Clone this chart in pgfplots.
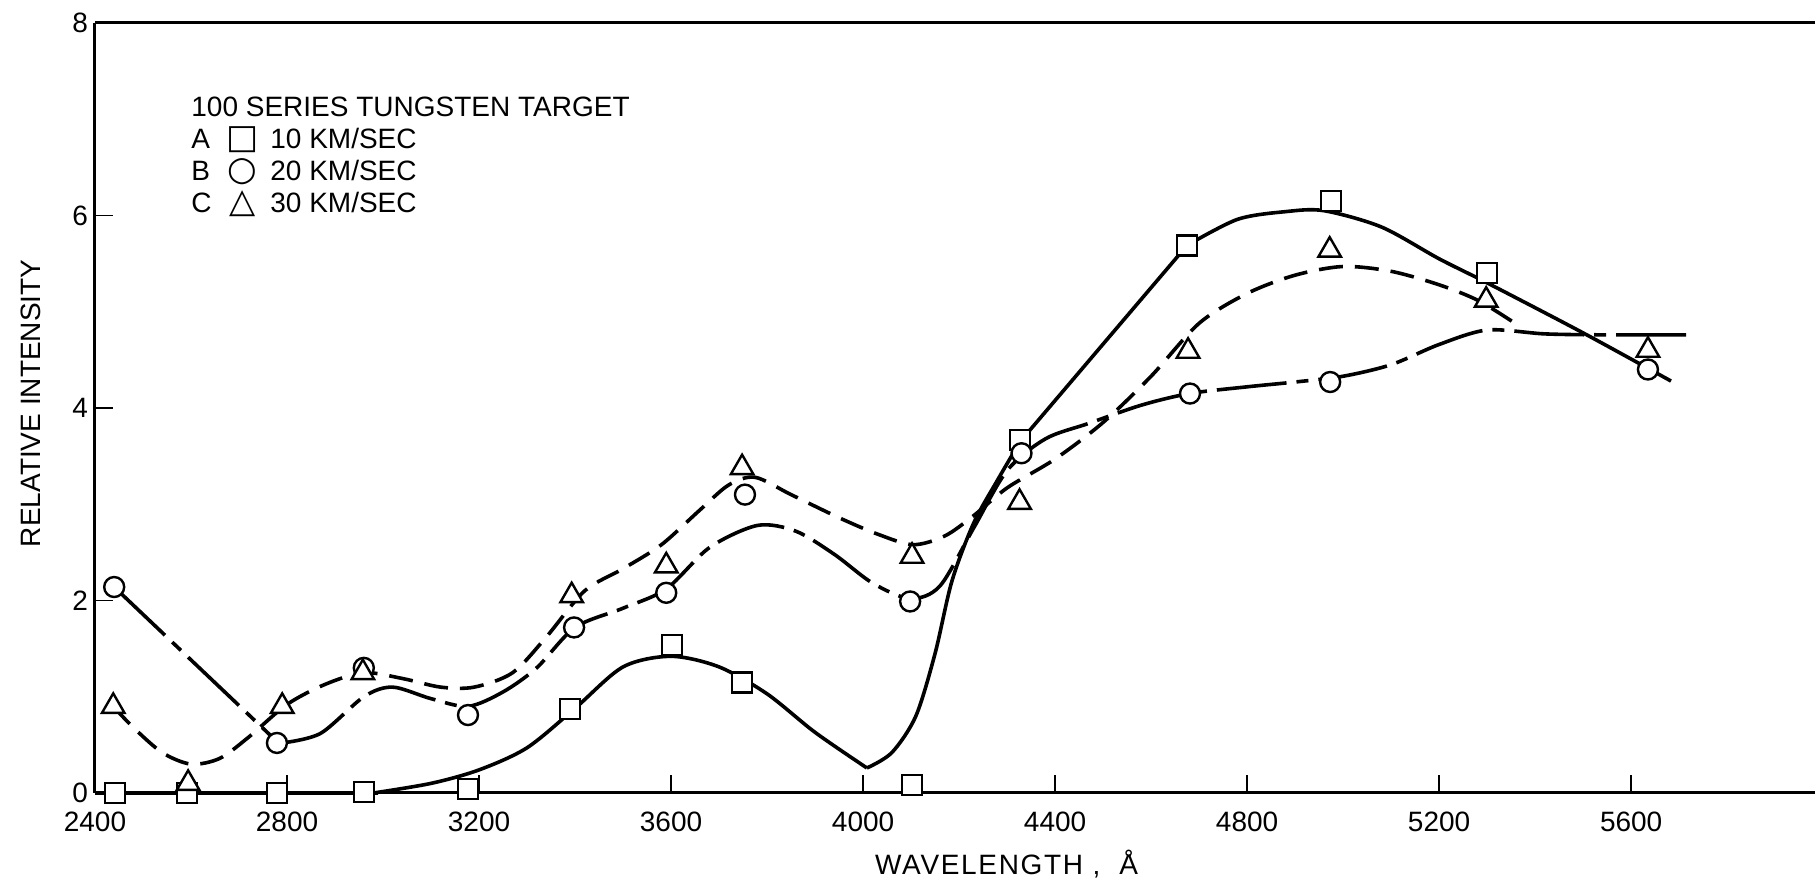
\documentclass[border=0pt]{standalone}
\usepackage{fontspec}
\setmainfont{Liberation Sans}
\newfontfamily\symfont{DejaVu Sans}
\usepackage{pgfplots}
\pgfplotsset{compat=1.18}
\newcommand{\leg}[3]{\makebox[10.5pt][l]{#1}\hspace{7pt}\makebox[16pt][c]{\symfont\fontsize{17}{16}\selectfont #2}\hspace{6pt}#3}
\begin{document}
\begin{tikzpicture}
\useasboundingbox (0,0) rectangle (907.5pt,441.5pt);
\begin{axis}[
  at={(47.5pt,45pt)}, anchor=south west,
  scale only axis, width=860pt, height=385pt,
  xmin=2400, xmax=5983, ymin=0, ymax=8,
  axis x line*=box, axis y line*=left,
  xtick={2400,2800,3200,3600,4000,4400,4800,5200,5600},
  ytick={0,2,4,6,8},
  xtick pos=bottom, ytick pos=left,
  tick align=inside, major tick length=9pt,
  every tick/.style={black, line width=0.8pt},
  axis line style={line width=1.5pt},
  font=\fontsize{14}{17}\selectfont,
  /pgf/number format/assume math mode=true,
  /pgf/number format/1000 sep={},
  xticklabel style={yshift=-6pt},
  xlabel={\addfontfeature{LetterSpace=6}WAVELENGTH\ ,\ \ Å},
  ylabel={RELATIVE INTENSITY},
  xlabel style={at={(axis description cs:0.53,-0.0922)}, anchor=center},
  ylabel style={at={(axis description cs:-0.0372,0.506)}, anchor=center},
  clip=false,
]
% ---- curves ----
% A (solid)
\addplot[black, line width=1.8pt] coordinates {(2400,0) (2990,0)};
\addplot[black, line width=1.8pt, smooth] coordinates {
 (2980,0) (3100,0.1) (3200,0.24) (3300,0.47) (3400,0.88) (3500,1.31) (3600,1.42)
 (3700,1.31) (3800,1.03) (3900,0.63) (4008,0.26)};
\addplot[black, line width=1.8pt, smooth] coordinates {
 (4008,0.26) (4060,0.42) (4110,0.8) (4150,1.45) (4185,2.2) (4230,2.8) (4280,3.25) (4327,3.65)};
\addplot[black, line width=1.8pt] coordinates {(4327,3.65) (4675,5.69)};
\addplot[black, line width=1.8pt, smooth] coordinates {
 (4675,5.69) (4780,5.96) (4880,6.04) (4960,6.05) (5080,5.88) (5200,5.55) (5300,5.30) (5500,4.78) (5683,4.28)};
% B (long dash - short dash)
\addplot[black, line width=1.8pt, dash pattern=on 35pt off 5pt on 6pt off 5pt] coordinates {(2440,2.14) (2780,0.53)};
\addplot[black, line width=1.8pt, smooth, dash pattern=on 35pt off 5pt on 6pt off 5pt] coordinates {
 (2790,0.52) (2870,0.62) (2960,1.0) (3020,1.1) (3100,0.98) (3177,0.90) (3250,1.05) (3320,1.3)
 (3400,1.72) (3500,1.92) (3590,2.12) (3680,2.55) (3780,2.78) (3860,2.72) (3940,2.48) (4020,2.18)
 (4098,2.02) (4160,2.15) (4230,2.75) (4300,3.35) (4380,3.68) (4470,3.84) (4580,4.03) (4680,4.15)
 (4800,4.22) (4900,4.27) (5000,4.33) (5100,4.45) (5200,4.66) (5300,4.81) (5420,4.77) (5540,4.76) (5729,4.76)};
% C (dashed)
\addplot[black, line width=1.8pt, smooth, dash pattern=on 12pt off 6pt] coordinates {
 (2438,0.90) (2480,0.68) (2540,0.42) (2600,0.30) (2660,0.36) (2720,0.58) (2800,0.92) (2880,1.13)
 (2960,1.25) (3040,1.19) (3120,1.10) (3190,1.10) (3270,1.25) (3340,1.62) (3420,2.1) (3500,2.33)
 (3580,2.58) (3660,2.94) (3720,3.2) (3775,3.28) (3850,3.1) (3950,2.86) (4030,2.69) (4104,2.58)
 (4170,2.67) (4230,2.88) (4300,3.17) (4400,3.47) (4500,3.85) (4600,4.33) (4700,4.88) (4800,5.19)
 (4900,5.38) (5000,5.47) (5100,5.42) (5200,5.28) (5280,5.12) (5352,4.9)};
% ---- markers ----
\addplot[only marks, mark=square*, mark size=5pt, mark options={draw=black, fill=white, line width=1.2pt, solid}] coordinates {
 (2442,0) (2592,0) (2779,0) (2960,0.01) (3177,0.04) (3390,0.87) (3602,1.54) (3748,1.15)
 (4102,0.08) (4327,3.67) (4675,5.69) (4975,6.15) (5300,5.40)};
\addplot[only marks, mark=*, mark size=5pt, mark options={draw=black, fill=white, line width=1.2pt, solid}] coordinates {
 (2440,2.14) (2779,0.52) (2960,1.30) (3177,0.81) (3398,1.72) (3590,2.08) (3754,3.10) (4098,1.99)
 (4330,3.53) (4681,4.15) (4973,4.27) (5635,4.40)};
\addplot[only marks, mark=triangle*, mark size=6.5pt, mark options={draw=black, fill=white, line width=1.2pt, solid}] coordinates {
 (2438,0.90) (2594,0.10) (2790,0.90) (2958,1.25) (3393,2.05) (3590,2.36) (3748,3.38) (4102,2.46)
 (4326,3.02) (4677,4.59) (4972,5.64) (5298,5.12) (5635,4.60)};
% ---- key ----
\node[anchor=north west, align=left, inner sep=0pt, font=\fontsize{14}{16}\selectfont]
  at (axis description cs:0.0558,0.905) {%
  100 SERIES TUNGSTEN TARGET\\
  \leg{A}{□}{10 KM/SEC}\\
  \leg{B}{○}{20 KM/SEC}\\
  \leg{C}{△}{30 KM/SEC}};
\end{axis}
\end{tikzpicture}
\end{document}
